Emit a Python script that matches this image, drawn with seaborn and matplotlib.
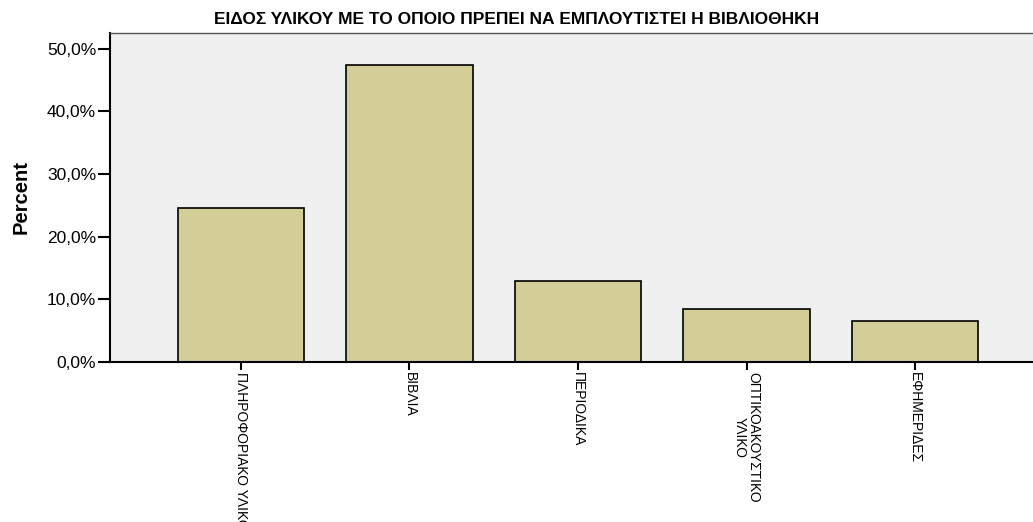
import matplotlib
matplotlib.use("Agg")
import matplotlib.pyplot as plt
import seaborn as sns
import pandas as pd
from matplotlib import font_manager as fm
from matplotlib.ticker import FuncFormatter, FixedLocator

categories = ["ΠΛΗΡΟΦΟΡΙΑΚΟ ΥΛΙΚΟ", "ΒΙΒΛΙΑ", "ΠΕΡΙΟΔΙΚΑ", "ΟΠΤΙΚΟΑΚΟΥΣΤΙΚΟ\nΥΛΙΚΟ", "ΕΦΗΜΕΡΙΔΕΣ"]
percent = [24.6, 47.4, 12.9, 8.5, 6.5]
yticks = [0, 10, 20, 30, 40, 50]
title = "ΕΙΔΟΣ ΥΛΙΚΟΥ ΜΕ ΤΟ ΟΠΟΙΟ ΠΡΕΠΕΙ ΝΑ ΕΜΠΛΟΥΤΙΣΤΕΙ Η ΒΙΒΛΙΟΘΗΚΗ"

sns.set_style("white")
names = {f.name for f in fm.fontManager.ttflist}
narrow = "Liberation Sans Narrow" if "Liberation Sans Narrow" in names else "Liberation Sans"
plt.rcParams["font.family"] = ["Liberation Sans", "DejaVu Sans"]
for k in ["text.color", "axes.labelcolor", "xtick.color", "ytick.color"]:
    plt.rcParams[k] = "black"

df = pd.DataFrame({"cat": categories, "pct": percent})

fig = plt.figure(figsize=(10.33, 5.22), dpi=100)
ax = fig.add_axes([110 / 1033, 1 - 362 / 522, 1 - 110 / 1033, (362 - 33) / 522])
ax.set_facecolor("#F0F0F0")

sns.barplot(data=df, x="cat", y="pct", ax=ax, color="#D3CE97", saturation=1,
            width=0.75, edgecolor="black", linewidth=1.2)

ax.set_xlim(-0.777, 4.70)
ax.set_ylim(0, 52.5)
ax.yaxis.set_major_locator(FixedLocator(yticks))
ax.yaxis.set_major_formatter(FuncFormatter(lambda v, p: f"{v:.1f}%".replace(".", ",")))

for side in ["left", "bottom"]:
    ax.spines[side].set_color("black")
    ax.spines[side].set_linewidth(1.5)
ax.spines["top"].set_color("#555555")
ax.spines["top"].set_linewidth(1.0)
ax.spines["right"].set_visible(False)

ax.tick_params(axis="y", direction="out", length=9, width=1.5, color="black",
               labelsize=12.5, pad=1, left=True, labelcolor="black")
ax.tick_params(axis="x", direction="out", length=6, width=1.5, color="black",
               pad=1, bottom=True, labelcolor="black")
for lab in ax.get_xticklabels():
    lab.set_rotation(270)
    lab.set_fontfamily([narrow, "DejaVu Sans"])
    lab.set_fontsize(10)
    lab.set_va("top")
    lab.set_ha("center")
    lab.set_linespacing(0.95)

ax.set_xlabel("")
ax.set_ylabel("Percent", fontsize=14.5, fontweight="bold", labelpad=12, color="black")

fig.text(517 / 1033, 1 - 19 / 522, title, ha="center", va="center", color="black",
         fontsize=12.5, fontweight="bold", family=[narrow, "DejaVu Sans"])

fig.savefig("out.png", dpi=100, facecolor="white")
